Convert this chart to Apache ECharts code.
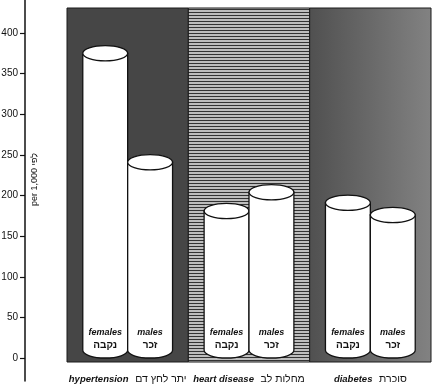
<!DOCTYPE html>
<html>
<head>
<meta charset="utf-8">
<script src="https://cdn.jsdelivr.net/npm/echarts@6/dist/echarts.min.js"></script>
<style>
html,body{margin:0;padding:0;background:#fff;}
#c{width:436px;height:388px;}
</style>
</head>
<body>
<div id="c"></div>
<script>
// ---- data ----
const categoriesEn = ['hypertension', 'heart disease', 'diabetes'];
const categoriesHe = ['יתר לחץ דם', 'מחלות לב', 'סוכרת'];
const femalesValues = [375, 181, 191];
const malesValues = [241, 204, 176];
const seriesNamesEn = ['females', 'males'];
const seriesNamesHe = ['נקבה', 'זכר'];
const yTicks = [0, 50, 100, 150, 200, 250, 300, 350, 400];
const yAxisName = 'per 1,000 לפי';

// ---- styles ----
const FONT = '"Liberation Sans", Arial, sans-serif';
function stripePattern() {
  const c = document.createElement('canvas');
  c.width = 4; c.height = 3;
  const g = c.getContext('2d');
  g.fillStyle = '#bdbdbd'; g.fillRect(0, 0, 4, 3);
  g.fillStyle = '#333333'; g.fillRect(0, 0, 4, 1);
  return { image: c, repeat: 'repeat' };
}
const panelColors = [
  '#464646',
  stripePattern(),
  new echarts.graphic.LinearGradient(0, 0, 1, 0, [
    { offset: 0, color: '#505050' }, { offset: 1, color: '#828282' }
  ])
];

function panel(params, api) {
  const i = api.value(0);
  const band = api.size([1, 0])[0];
  const c = api.coord([i, 0]);
  const cs = params.coordSys;
  return {
    type: 'rect',
    shape: { x: c[0] - band / 2, y: cs.y, width: band, height: cs.height },
    style: { fill: panelColors[params.dataIndex], stroke: '#1a1a1a', lineWidth: 1 }
  };
}

function cylinder(params, api) {
  const x = api.value(0), v = api.value(1);
  const band = api.size([1, 0])[0];
  const w = band * 0.37;
  const rx = w / 2, ry = w * 0.17;
  const top = api.coord([x, v]);
  const base = api.coord([x, 0]);
  const si = params.seriesIndex - 1;
  const cx = top[0] + (si === 0 ? -w / 2 : w / 2);
  const yTop = top[1];
  const yBot = base[1] - ry;
  const l = cx - rx, r = cx + rx;
  const stroke = { fill: '#fff', stroke: '#111', lineWidth: 1.3 };
  return {
    type: 'group',
    children: [
      { type: 'path', shape: { pathData: `M${l},${yTop} L${l},${yBot} A${rx},${ry} 0 0 0 ${r},${yBot} L${r},${yTop} Z` }, style: stroke },
      { type: 'ellipse', shape: { cx: cx, cy: yTop, rx: rx, ry: ry }, style: stroke },
      { type: 'text', style: { text: seriesNamesEn[si], x: cx, y: base[1] - 25, align: 'center', verticalAlign: 'middle', font: 'italic bold 9px ' + FONT, fill: '#111' } },
      { type: 'text', style: { text: seriesNamesHe[si], x: cx, y: base[1] - 13, align: 'center', verticalAlign: 'middle', font: 'bold 10px ' + FONT, fill: '#111' } }
    ]
  };
}

const K = 325 / 400; // px per unit (for matching the two grids)
const chart = echarts.init(document.getElementById('c'), null, { renderer: 'canvas' });
chart.setOption({
  animation: false,
  backgroundColor: '#fff',
  grid: [
    { left: 67, right: 5, top: 8, bottom: 26 },
    { left: 24, width: 1, top: 0, bottom: 7 }
  ],
  xAxis: [
    {
      type: 'category', gridIndex: 0,
      data: categoriesEn.map((e, i) => '{en|' + e + '}  {he|' + categoriesHe[i] + '}'),
      axisLine: { show: false }, axisTick: { show: false },
      splitArea: { show: false }, splitLine: { show: false },
      axisLabel: {
        interval: 0,
        margin: 11,
        rich: {
          en: { fontFamily: FONT, fontStyle: 'italic', fontWeight: 'bold', fontSize: 9.5, color: '#111' },
          he: { fontFamily: FONT, fontSize: 10.5, color: '#111' }
        }
      }
    },
    { type: 'value', gridIndex: 1, show: false }
  ],
  yAxis: [
    { type: 'value', gridIndex: 0, min: (358 - 362) / K, max: (358 - 8) / K, show: false, splitLine: { show: false } },
    {
      type: 'value', gridIndex: 1, min: (358 - 381) / K, max: 358 / K,
      axisLine: { show: true, lineStyle: { color: '#111', width: 1.5 } },
      axisTick: { show: true, inside: false, length: 5, customValues: yTicks, lineStyle: { color: '#111', width: 1.2 } },
      axisLabel: { show: true, customValues: yTicks, margin: 7, fontFamily: FONT, fontSize: 10, color: '#111' },
      splitLine: { show: false },
      name: yAxisName, nameLocation: 'middle', nameRotate: 90, nameGap: -14,
      nameTextStyle: { fontFamily: FONT, fontSize: 9, color: '#111', padding: [0, 0, 0, 22] }
    }
  ],
  series: [
    { name: 'panels', type: 'custom', xAxisIndex: 0, yAxisIndex: 0, renderItem: panel, data: categoriesEn.map((e, i) => [i]), z: 1, silent: true },
    { name: seriesNamesEn[0], type: 'custom', xAxisIndex: 0, yAxisIndex: 0, renderItem: cylinder, data: femalesValues.map((v, i) => [i, v]), z: 5 },
    { name: seriesNamesEn[1], type: 'custom', xAxisIndex: 0, yAxisIndex: 0, renderItem: cylinder, data: malesValues.map((v, i) => [i, v]), z: 6 }
  ]
});
</script>
</body>
</html>
